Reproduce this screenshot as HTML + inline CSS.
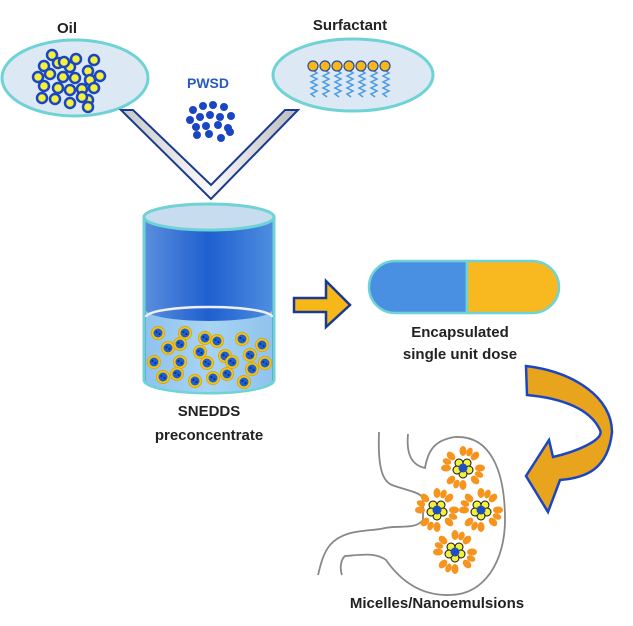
<!DOCTYPE html>
<html><head><meta charset="utf-8"><style>
body{margin:0;background:#fff}
svg{display:block}
text{font-family:"Liberation Sans",sans-serif;font-weight:bold}
</style></head><body>
<svg width="633" height="626" viewBox="0 0 633 626">
<defs>
<linearGradient id="cyl" x1="0" x2="1"><stop offset="0" stop-color="#5a8fdc"/><stop offset=".5" stop-color="#1f5fd0"/><stop offset="1" stop-color="#4f8fe0"/></linearGradient>
<linearGradient id="liq" x1="0" x2="1"><stop offset="0" stop-color="#8fc3ee"/><stop offset=".5" stop-color="#a8d4f2"/><stop offset="1" stop-color="#8fc3ee"/></linearGradient>
<linearGradient id="fun" x1="0" x2="1"><stop offset="0" stop-color="#c8c8c8"/><stop offset=".5" stop-color="#fafafa"/><stop offset="1" stop-color="#bcbcbc"/></linearGradient>
<g id="mic">
<g fill="#f7941d">
<ellipse cx="0" cy="-17" rx="3.5" ry="5"/><ellipse cx="0" cy="17" rx="3.5" ry="5"/>
<ellipse cx="-17" cy="0" rx="5" ry="3.5"/><ellipse cx="17" cy="0" rx="5" ry="3.5"/>
<ellipse cx="12" cy="12" rx="3.5" ry="5" transform="rotate(-45 12 12)"/><ellipse cx="-12" cy="-12" rx="3.5" ry="5" transform="rotate(-45 -12 -12)"/>
<ellipse cx="12" cy="-12" rx="3.5" ry="5" transform="rotate(45 12 -12)"/><ellipse cx="-12" cy="12" rx="3.5" ry="5" transform="rotate(45 -12 12)"/>
<ellipse cx="6.5" cy="-16" rx="3" ry="4.5" transform="rotate(22 6.5 -16)"/><ellipse cx="-6.5" cy="16" rx="3" ry="4.5" transform="rotate(22 -6.5 16)"/>
<ellipse cx="16" cy="6.5" rx="4.5" ry="3" transform="rotate(22 16 6.5)"/><ellipse cx="-16" cy="-6.5" rx="4.5" ry="3" transform="rotate(22 -16 -6.5)"/>
</g>
<g fill="#f5f03a" stroke="#111" stroke-width="1"><circle cx="-4" cy="-5" r="4"/><circle cx="4" cy="-5" r="4"/><circle cx="6" cy="2" r="4"/><circle cx="0" cy="6" r="4"/><circle cx="-6" cy="2" r="4"/></g>
<circle r="4.5" fill="#1d4fc4"/>
</g>
<g id="dr"><circle r="6.5" fill="#f5c81a" stroke="#e0a800" stroke-width="1"/><circle r="4.5" fill="#1d5fd0"/><circle cx="-1.5" cy="-1" r="1" fill="#0a2a80"/><circle cx="1.5" cy="1" r="1" fill="#0a2a80"/></g>
</defs>

<!-- Oil -->
<text x="67" y="33" font-size="15" text-anchor="middle" fill="#222">Oil</text>
<ellipse cx="75" cy="78" rx="73" ry="38" fill="#dce8f4" stroke="#6fd3d6" stroke-width="3"/>
<g fill="#f5f03a" stroke="#1a46c4" stroke-width="2.5">
<circle cx="52" cy="55" r="5"/><circle cx="76" cy="59" r="5"/><circle cx="94" cy="60" r="5"/><circle cx="44" cy="66" r="5"/><circle cx="58" cy="63" r="5"/><circle cx="70" cy="67" r="5"/><circle cx="88" cy="71" r="5"/><circle cx="100" cy="76" r="5"/><circle cx="38" cy="77" r="5"/><circle cx="50" cy="74" r="5"/><circle cx="63" cy="77" r="5"/><circle cx="75" cy="78" r="5"/><circle cx="90" cy="80" r="5"/><circle cx="44" cy="86" r="5"/><circle cx="58" cy="88" r="5"/><circle cx="70" cy="90" r="5"/><circle cx="82" cy="89" r="5"/><circle cx="94" cy="88" r="5"/><circle cx="42" cy="98" r="5"/><circle cx="55" cy="99" r="5"/><circle cx="70" cy="103" r="5"/><circle cx="88" cy="100" r="5"/><circle cx="88" cy="107" r="5"/><circle cx="64" cy="62" r="5"/><circle cx="82" cy="97" r="5"/>
</g>
<!-- Surfactant -->
<text x="350" y="30" font-size="15" text-anchor="middle" fill="#222">Surfactant</text>
<ellipse cx="353" cy="75" rx="80" ry="36" fill="#dce8f4" stroke="#6fd3d6" stroke-width="3"/>
<g stroke="#4a9ae0" stroke-width="1.5" fill="none">
<path d="M313 70 l4 3 -6 3 6 3 -6 3 6 3 -6 3 6 3 -6 3 4 3"/><path d="M325 70 l4 3 -6 3 6 3 -6 3 6 3 -6 3 6 3 -6 3 4 3"/><path d="M337 70 l4 3 -6 3 6 3 -6 3 6 3 -6 3 6 3 -6 3 4 3"/><path d="M349 70 l4 3 -6 3 6 3 -6 3 6 3 -6 3 6 3 -6 3 4 3"/><path d="M361 70 l4 3 -6 3 6 3 -6 3 6 3 -6 3 6 3 -6 3 4 3"/><path d="M373 70 l4 3 -6 3 6 3 -6 3 6 3 -6 3 6 3 -6 3 4 3"/><path d="M385 70 l4 3 -6 3 6 3 -6 3 6 3 -6 3 6 3 -6 3 4 3"/>
</g>
<g fill="#f5b818" stroke="#2a4aa0" stroke-width="1.2">
<circle cx="313" cy="66" r="5"/><circle cx="325" cy="66" r="5"/><circle cx="337" cy="66" r="5"/><circle cx="349" cy="66" r="5"/><circle cx="361" cy="66" r="5"/><circle cx="373" cy="66" r="5"/><circle cx="385" cy="66" r="5"/>
</g>
<!-- PWSD -->
<text x="208" y="88" font-size="14" text-anchor="middle" fill="#2a5ac0">PWSD</text>
<g fill="#1a46c4">
<circle cx="193" cy="110" r="4"/><circle cx="203" cy="106" r="4"/><circle cx="213" cy="105" r="4"/><circle cx="224" cy="107" r="4"/><circle cx="190" cy="120" r="4"/><circle cx="200" cy="117" r="4"/><circle cx="210" cy="115" r="4"/><circle cx="220" cy="117" r="4"/><circle cx="231" cy="116" r="4"/><circle cx="196" cy="127" r="4"/><circle cx="206" cy="126" r="4"/><circle cx="218" cy="125" r="4"/><circle cx="228" cy="128" r="4"/><circle cx="197" cy="135" r="4"/><circle cx="209" cy="134" r="4"/><circle cx="221" cy="138" r="4"/><circle cx="230" cy="132" r="4"/>
</g>
<!-- Funnel -->
<path d="M121 110 L133 110 L211 185 L285 110 L298 110 L211 199 Z" fill="url(#fun)" stroke="#1a3a90" stroke-width="2"/>
<!-- Cylinder -->
<path d="M144 217 L144 380 A65 13 0 0 0 274 380 L274 217 Z" fill="url(#cyl)" stroke="#6fd3d6" stroke-width="3"/>
<path d="M146 310 A63 11 0 0 0 272 310 L272 380 A63 12 0 0 1 146 380 Z" fill="url(#liq)"/>
<path d="M146 317 A63 10 0 0 1 272 317" fill="none" stroke="#eeeeee" stroke-width="2.5"/>
<ellipse cx="209" cy="217" rx="65" ry="13" fill="#c8dcf0" stroke="#6fd3d6" stroke-width="3"/>
<g>
<use href="#dr" x="158" y="333"/><use href="#dr" x="185" y="333"/><use href="#dr" x="205" y="338"/><use href="#dr" x="217" y="341"/><use href="#dr" x="242" y="339"/><use href="#dr" x="262" y="345"/><use href="#dr" x="168" y="348"/><use href="#dr" x="180" y="344"/><use href="#dr" x="200" y="352"/><use href="#dr" x="225" y="356"/><use href="#dr" x="250" y="355"/><use href="#dr" x="154" y="362"/><use href="#dr" x="180" y="362"/><use href="#dr" x="207" y="363"/><use href="#dr" x="232" y="362"/><use href="#dr" x="252" y="369"/><use href="#dr" x="163" y="377"/><use href="#dr" x="177" y="374"/><use href="#dr" x="195" y="381"/><use href="#dr" x="213" y="378"/><use href="#dr" x="227" y="374"/><use href="#dr" x="244" y="382"/><use href="#dr" x="265" y="363"/>
</g>
<text x="209" y="416" font-size="15" text-anchor="middle" fill="#222">SNEDDS</text>
<text x="209" y="440" font-size="15" text-anchor="middle" fill="#222">preconcentrate</text>
<!-- Arrow -->
<path d="M294 298 L326 298 L326 281 L350 305 L326 327 L326 312 L294 312 Z" fill="#f5b818" stroke="#1a3a90" stroke-width="2.5"/>
<!-- Capsule -->
<path d="M467 261 L395 261 A26 26 0 0 0 395 313 L467 313 Z" fill="#4a90e2" stroke="#6fd3d6" stroke-width="2.5"/>
<path d="M467 261 L532 261 A27 26 0 0 1 532 313 L467 313 Z" fill="#f7b820" stroke="#6fd3d6" stroke-width="2.5"/>
<text x="460" y="337" font-size="15" text-anchor="middle" fill="#222">Encapsulated</text>
<text x="460" y="359" font-size="15" text-anchor="middle" fill="#222">single unit dose</text>
<!-- Curved arrow -->
<path d="M526 366 C575 372 612 398 612 432 C608 470 585 478 560 480 L548 512 L526 476 L549 440 L553 457 C575 452 605 440 600 430 C590 408 560 398 527 395 Z" fill="#e8a41c" stroke="#1a46c4" stroke-width="2.5"/>
<!-- Stomach -->
<g fill="none" stroke="#888" stroke-width="1.8">
<path d="M379 432 C378 460 380 480 392 485 C405 490 420 492 423 498 L423 520 C415 530 400 525 385 528 C370 532 345 528 330 545 C322 555 320 568 318 575"/>
<path d="M408 434 C406 455 412 465 425 468 C428 450 435 440 455 437 C490 435 505 470 505 520 C505 560 485 595 450 595 C420 596 400 580 386 560 C375 552 360 555 345 556 C340 560 340 570 342 575"/>
</g>
<use href="#mic" x="463" y="468"/>
<use href="#mic" x="437" y="510"/>
<use href="#mic" x="481" y="510"/>
<use href="#mic" x="455" y="552"/>
<text x="437" y="608" font-size="15" text-anchor="middle" fill="#222">Micelles/Nanoemulsions</text>
</svg>
</body></html>
